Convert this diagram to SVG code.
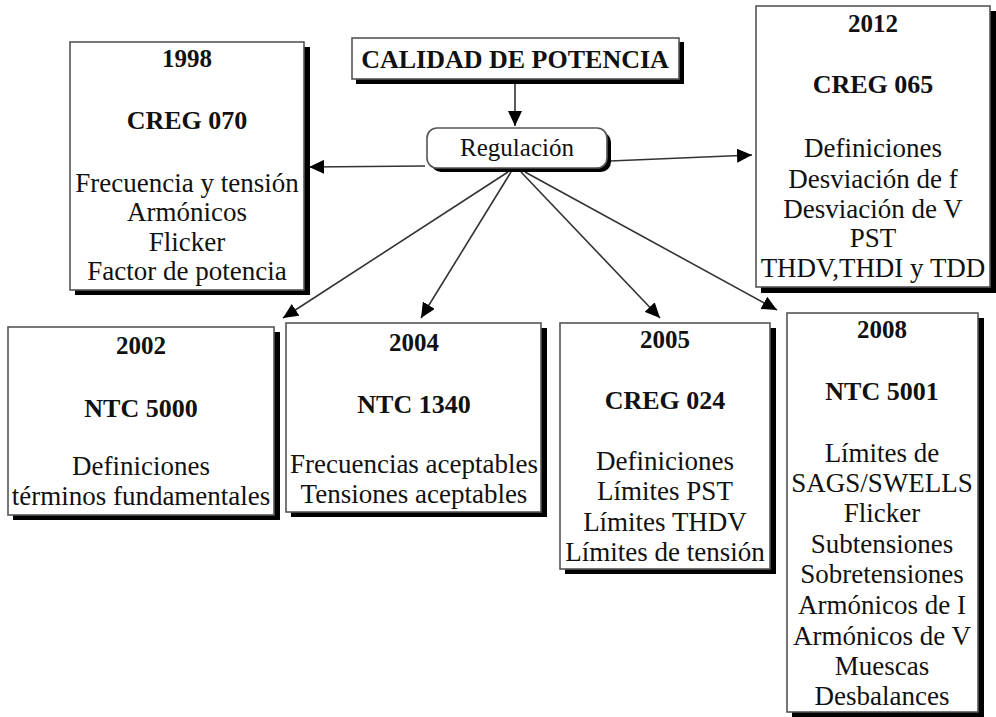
<svg xmlns="http://www.w3.org/2000/svg" width="996" height="717" viewBox="0 0 996 717">
<style>
.sh{fill:#000}
.bx{fill:#fff;stroke:#555;stroke-width:1.6}
text{font-family:"Liberation Serif","Times New Roman",serif;fill:#111;text-anchor:middle}
.t{font-size:27px}
.b{font-size:26px;font-weight:bold}
.y{font-size:25px;font-weight:bold}
.c{fill:none;stroke:#333;stroke-width:1.6}
</style>
<defs>
<marker id="ah" markerUnits="userSpaceOnUse" markerWidth="16" markerHeight="14" refX="15" refY="7" orient="auto">
<path d="M0,0 L15,7 L0,14 Z" fill="#000"/>
</marker>
</defs>
<rect width="996" height="717" fill="#fff"/>

<g id="connectors">
<line class="c" x1="515" y1="83" x2="515" y2="126" marker-end="url(#ah)"/>
<line class="c" x1="425" y1="166" x2="309" y2="167" marker-end="url(#ah)"/>
<line class="c" x1="610" y1="161" x2="752" y2="155" marker-end="url(#ah)"/>
<line class="c" x1="508" y1="172" x2="283" y2="318" marker-end="url(#ah)"/>
<line class="c" x1="511" y1="172" x2="421" y2="318" marker-end="url(#ah)"/>
<line class="c" x1="521" y1="172" x2="660" y2="318" marker-end="url(#ah)"/>
<line class="c" x1="525" y1="172" x2="777" y2="310" marker-end="url(#ah)"/>
</g>

<g id="calidad">
<rect class="sh" x="356" y="42" width="328" height="42"/>
<rect class="bx" x="352" y="38" width="327" height="41"/>
<text class="b" x="515" y="68">CALIDAD DE POTENCIA</text>
</g>

<g id="regulacion">
<rect class="sh" x="431" y="132" width="180" height="40" rx="10"/>
<rect class="bx" x="427" y="128" width="180" height="40" rx="10"/>
<text class="t" x="517" y="156" style="font-size:25px">Regulación</text>
</g>

<g id="n1998">
<rect class="sh" x="75" y="47" width="235" height="248"/>
<rect class="bx" x="70" y="42" width="234" height="248"/>
<text class="y" x="187" y="67">1998</text>
<text class="b" x="187" y="129">CREG 070</text>
<text class="t" x="187" y="192">Frecuencia y tensión</text>
<text class="t" x="187" y="221">Armónicos</text>
<text class="t" x="187" y="251">Flicker</text>
<text class="t" x="187" y="280">Factor de potencia</text>
</g>

<g id="n2012">
<rect class="sh" x="761" y="11" width="235" height="282"/>
<rect class="bx" x="756" y="6" width="234" height="281"/>
<text class="y" x="873" y="32">2012</text>
<text class="b" x="873" y="93">CREG 065</text>
<text class="t" x="873" y="157">Definiciones</text>
<text class="t" x="873" y="188">Desviación de f</text>
<text class="t" x="873" y="218">Desviación de V</text>
<text class="t" x="873" y="247">PST</text>
<text class="t" x="873" y="277">THDV,THDI y TDD</text>
</g>

<g id="n2002">
<rect class="sh" x="13" y="332" width="267" height="188"/>
<rect class="bx" x="8" y="327" width="266" height="188"/>
<text class="y" x="141" y="354">2002</text>
<text class="b" x="141" y="417">NTC 5000</text>
<text class="t" x="141" y="475">Definiciones</text>
<text class="t" x="141" y="505">términos fundamentales</text>
</g>

<g id="n2004">
<rect class="sh" x="291" y="328" width="256" height="189"/>
<rect class="bx" x="286" y="323" width="255" height="189"/>
<text class="y" x="414" y="351">2004</text>
<text class="b" x="414" y="413">NTC 1340</text>
<text class="t" x="414" y="473">Frecuencias aceptables</text>
<text class="t" x="414" y="503">Tensiones aceptables</text>
</g>

<g id="n2005">
<rect class="sh" x="565" y="328" width="211" height="246"/>
<rect class="bx" x="560" y="323" width="210" height="246"/>
<text class="y" x="665" y="348">2005</text>
<text class="b" x="665" y="409">CREG 024</text>
<text class="t" x="665" y="470">Definiciones</text>
<text class="t" x="665" y="500">Límites PST</text>
<text class="t" x="665" y="531">Límites THDV</text>
<text class="t" x="665" y="561">Límites de tensión</text>
</g>

<g id="n2008">
<rect class="sh" x="792" y="318" width="192" height="399"/>
<rect class="bx" x="787" y="313" width="191" height="399"/>
<text class="y" x="882" y="338">2008</text>
<text class="b" x="882" y="400">NTC 5001</text>
<text class="t" x="882" y="462">Límites de</text>
<text class="t" x="882" y="492">SAGS/SWELLS</text>
<text class="t" x="882" y="522">Flicker</text>
<text class="t" x="882" y="553">Subtensiones</text>
<text class="t" x="882" y="583">Sobretensiones</text>
<text class="t" x="882" y="614">Armónicos de I</text>
<text class="t" x="882" y="645">Armónicos de V</text>
<text class="t" x="882" y="675">Muescas</text>
<text class="t" x="882" y="705">Desbalances</text>
</g>
</svg>
